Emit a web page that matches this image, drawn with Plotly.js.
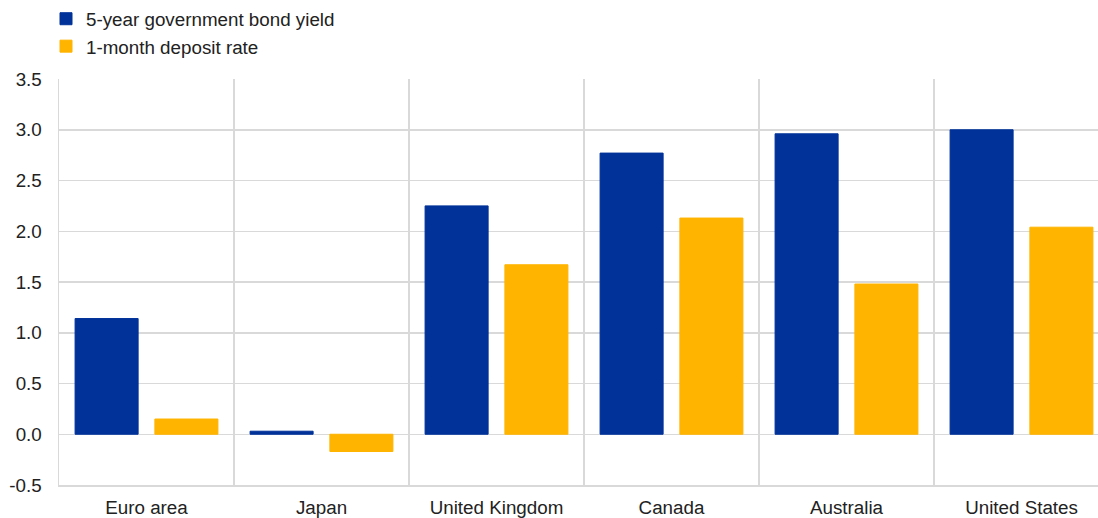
<!DOCTYPE html>
<html>
<head>
<meta charset="utf-8">
<script src="https://cdn.plot.ly/plotly-3.0.1.min.js"></script>
<style>html,body{margin:0;padding:0;background:#fff;}#chart{width:1098px;height:518px;}</style>
</head>
<body>
<div id="chart"></div>
<script>
const categories = ["Euro area", "Japan", "United Kingdom", "Canada", "Australia", "United States"];
const bondYield = [1.14, 0.03, 2.25, 2.77, 2.96, 3.00];
const depositRate = [0.15, -0.17, 1.67, 2.13, 1.48, 2.04];
const seriesNames = ["5-year government bond yield", "1-month deposit rate"];
const yTicks = [-0.5, 0.0, 0.5, 1.0, 1.5, 2.0, 2.5, 3.0, 3.5];

const blue = "#003299";
const orange = "#FFB400";
const grid = "#d9d9d9";
const fontFam = "Liberation Sans, Arial, sans-serif";

const traces = [
  {type: "bar", name: seriesNames[0], x: categories, y: bondYield,
   marker: {color: blue, line: {color: blue, width: 1}}, hoverinfo: "skip"},
  {type: "bar", name: seriesNames[1], x: categories, y: depositRate,
   marker: {color: orange, line: {color: orange, width: 1}}, hoverinfo: "skip"}
];

const layout = {
  width: 1098, height: 518,
  margin: {l: 59, r: 0, t: 79, b: 33, pad: 0, autoexpand: false},
  paper_bgcolor: "#fff", plot_bgcolor: "#fff",
  font: {family: fontFam, size: 18.8, color: "#222"},
  barmode: "group",
  bargap: 0.088,
  bargroupgap: 0.21,
  showlegend: true,
  legend: {
    xref: "container", yref: "container",
    x: 46 / 1098, y: 1 + 1 / 518, xanchor: "left", yanchor: "top",
    orientation: "v", bgcolor: "rgba(0,0,0,0)", borderwidth: 0,
    font: {family: fontFam, size: 18.8, color: "#222"},
    tracegroupgap: 0
  },
  xaxis: {
    type: "category",
    range: [-0.5, -0.5 + 1039 / 175],
    tickson: "boundaries",
    tickangle: 0,
    automargin: false,
    showgrid: true, gridcolor: grid, gridwidth: 1.5,
    showline: true, linecolor: grid, linewidth: 1.5,
    ticks: "", ticklabelstandoff: 5,
    tickfont: {family: fontFam, size: 18.8, color: "#222"},
    fixedrange: true
  },
  yaxis: {
    range: [-0.5, 3.5],
    tickvals: yTicks,
    ticktext: yTicks.map(v => v.toFixed(1)),
    automargin: false,
    showgrid: true, gridcolor: grid, gridwidth: 1.5,
    zeroline: false,
    showline: true, linecolor: grid, linewidth: 1.5,
    ticks: "outside", ticklen: 12, tickcolor: "rgba(0,0,0,0)",
    tickfont: {family: fontFam, size: 18.8, color: "#222"},
    fixedrange: true
  }
};

Plotly.newPlot("chart", traces, layout, {displayModeBar: false, staticPlot: true});
</script>
</body>
</html>
